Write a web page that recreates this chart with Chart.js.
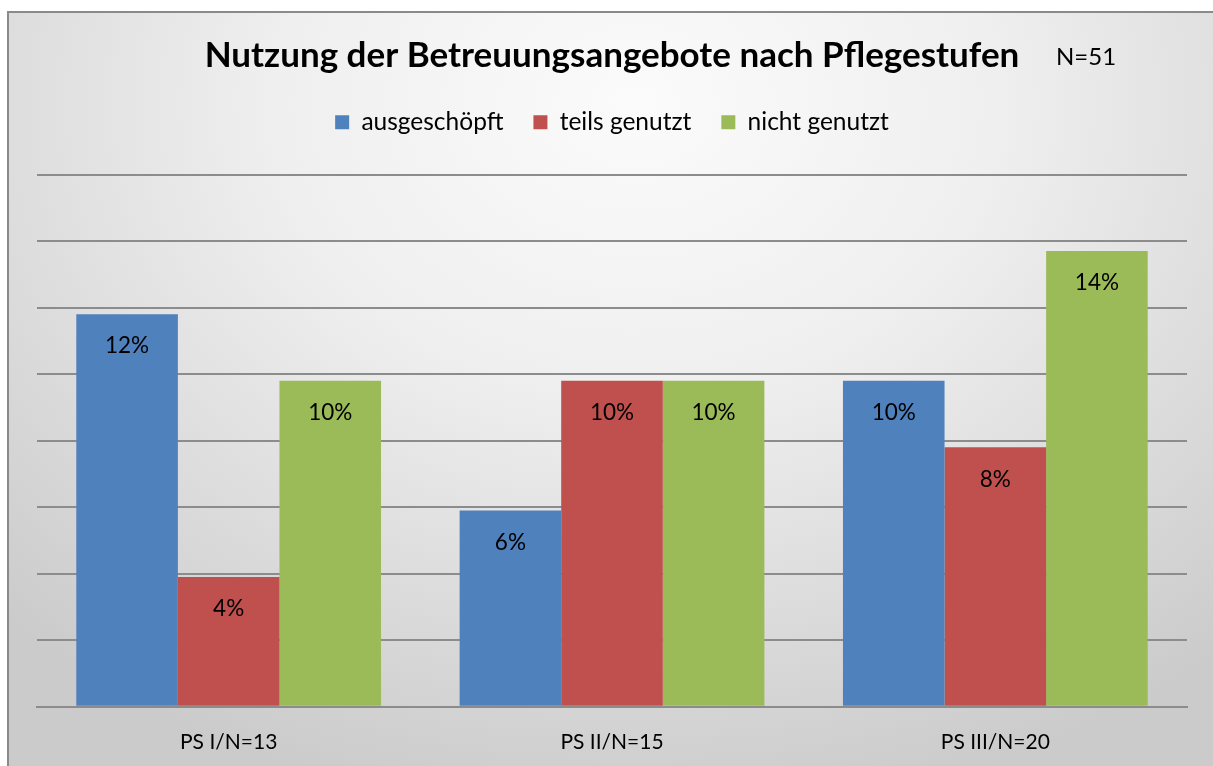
<!DOCTYPE html>
<html>
<head>
<meta charset="utf-8">
<script src="https://cdn.jsdelivr.net/npm/chart.js@4"></script>
<style>
  html, body { margin: 0; padding: 0; background: #fff; }
  #wrap { position: relative; width: 1213px; height: 766px; overflow: hidden; }
  #frame {
    position: absolute; left: 7px; top: 11px; width: 1210px; height: 760px;
    border: 2px solid #8a8a8a; box-sizing: border-box;
    background: radial-gradient(ellipse 75% 95% at 52% 12%, #fbfbfb 0%, #efefef 40%, #dadada 75%, #cbcbcb 100%);
  }
  canvas { position: absolute; left: 0; top: 0; }
</style>
</head>
<body>
<div id="wrap">
  <div id="frame"></div>
  <canvas id="chart" width="1213" height="766"></canvas>
</div>
<script>
const categories = ['PS I/N=13', 'PS II/N=15', 'PS III/N=20'];
const ausgeschoepft = [11.8, 5.9, 9.8];
const teilsGenutzt = [3.9, 9.8, 7.8];
const nichtGenutzt = [9.8, 9.8, 13.7];
const titleText = 'Nutzung der Betreuungsangebote nach Pflegestufen';
const sampleText = 'N=51';

const font = 'Lato, "Open Sans", sans-serif';

// percent labels inside the bars, near the top
const barLabels = {
  id: 'barLabels',
  afterDatasetsDraw(chart) {
    const ctx = chart.ctx;
    ctx.save();
    ctx.font = '22.5px ' + font;
    ctx.fillStyle = '#000';
    ctx.textAlign = 'center';
    ctx.textBaseline = 'middle';
    chart.data.datasets.forEach((ds, i) => {
      chart.getDatasetMeta(i).data.forEach((bar, j) => {
        ctx.fillText(Math.round(ds.data[j]) + '%', bar.x, bar.y + 32);
      });
    });
    ctx.restore();
  }
};

// "N=51" next to the title
const sampleSize = {
  id: 'sampleSize',
  afterDraw(chart) {
    const ctx = chart.ctx;
    ctx.save();
    ctx.font = '24px ' + font;
    ctx.fillStyle = '#000';
    ctx.textAlign = 'left';
    ctx.textBaseline = 'middle';
    ctx.fillText(sampleText, 1056, 57);
    ctx.restore();
  }
};

// extra space under the legend
const legendGap = {
  id: 'legendGap',
  beforeInit(chart) {
    const fit = chart.legend.fit;
    chart.legend.fit = function () {
      fit.bind(chart.legend)();
      this.height += 30;
    };
  }
};

new Chart(document.getElementById('chart'), {
  type: 'bar',
  data: {
    labels: categories,
    datasets: [
      { label: 'ausgeschöpft', data: ausgeschoepft, backgroundColor: '#4F81BD' },
      { label: 'teils genutzt', data: teilsGenutzt, backgroundColor: '#C0504D' },
      { label: 'nicht genutzt', data: nichtGenutzt, backgroundColor: '#9BBB59' }
    ]
  },
  options: {
    responsive: false,
    animation: false,
    layout: { padding: { top: 35, left: 37, right: 26, bottom: -12 } },
    datasets: { bar: { categoryPercentage: 0.795, barPercentage: 1.0 } },
    plugins: {
      title: {
        display: true,
        text: titleText,
        color: '#000',
        font: { family: font, size: 35, weight: 'bold' },
        padding: { top: 0, bottom: 3 }
      },
      legend: {
        position: 'top',
        labels: {
          color: '#000',
          font: { family: font, size: 24.5 },
          boxWidth: 14,
          boxHeight: 14,
          padding: 30
        }
      },
      tooltip: { enabled: false }
    },
    scales: {
      x: {
        grid: { display: false, drawTicks: false },
        border: { display: true, color: '#8c8c8c', width: 2 },
        ticks: { color: '#000', font: { family: font, size: 21 }, padding: 23 }
      },
      y: {
        min: 0,
        max: 16,
        ticks: { display: false, stepSize: 2 },
        grid: { color: '#8c8c8c', lineWidth: 2, drawTicks: false },
        border: { display: false }
      }
    }
  },
  plugins: [barLabels, sampleSize, legendGap]
});
</script>
</body>
</html>
